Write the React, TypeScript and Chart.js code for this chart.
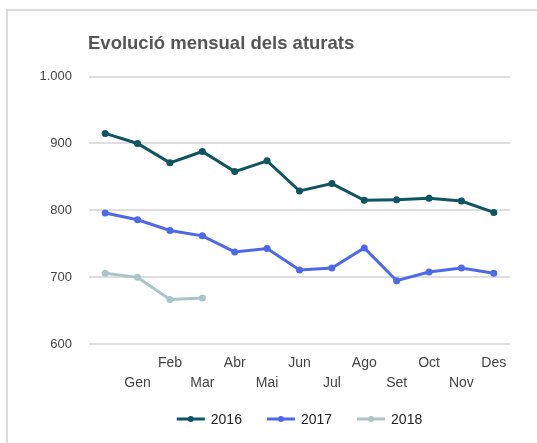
import React, { useEffect, useRef } from "react";
import { Chart, registerables } from "chart.js";

Chart.register(...registerables);

const TITLE = "Evolució mensual dels aturats";
const MONTHS = ["", "Gen", "Feb", "Mar", "Abr", "Mai", "Jun", "Jul", "Ago", "Set", "Oct", "Nov", "Des"];
const SERIES_NAMES = ["2016", "2017", "2018"];
const SERIES_COLORS = ["#0f5463", "#4d69e8", "#a9c5c8"];
const DATA_2016 = [915, 900, 871, 888, 858, 874, 829, 840, 815, 816, 818, 814, 797];
const DATA_2017 = [796, 786, 770, 762, 738, 743, 711, 714, 744, 695, 708, 714, 706];
const DATA_2018: (number | null)[] = [706, 700, 667, 669, null, null, null, null, null, null, null, null, null];
const Y_MIN = 600;
const Y_MAX = 1000;
const Y_STEP = 100;

const FONT = "'Liberation Sans', Arial, sans-serif";

function fmt(v: number): string {
  const s = Math.round(v).toString();
  return s.replace(/\B(?=(\d{3})+(?!\d))/g, ".");
}

const titlePlugin = {
  id: "customTitle",
  afterDraw(chart: any) {
    const ctx = chart.ctx;
    ctx.save();
    ctx.font = `bold 18.5px ${FONT}`;
    ctx.fillStyle = "#555555";
    ctx.textAlign = "left";
    ctx.textBaseline = "middle";
    ctx.fillText(TITLE, chart.chartArea.left - 1, 33);
    ctx.restore();
  },
};

const legendPlugin = {
  id: "customLegend",
  afterDraw(chart: any) {
    const ctx = chart.ctx;
    const ds = chart.data.datasets;
    ctx.save();
    ctx.font = `14px ${FONT}`;
    const lineW = 28;
    const gap = 6;
    const spacing = 25;
    const widths = ds.map((d: any) => lineW + gap + ctx.measureText(d.label).width);
    const total = widths.reduce((a: number, b: number) => a + b, 0) + spacing * (ds.length - 1);
    const ca = chart.chartArea;
    let x = (ca.left + ca.right) / 2 - total / 2;
    const y = 408;
    ds.forEach((d: any, i: number) => {
      ctx.strokeStyle = d.borderColor;
      ctx.lineWidth = 3;
      ctx.beginPath();
      ctx.moveTo(x, y);
      ctx.lineTo(x + lineW, y);
      ctx.stroke();
      ctx.fillStyle = d.borderColor;
      ctx.beginPath();
      ctx.arc(x + lineW / 2, y, 3, 0, Math.PI * 2);
      ctx.fill();
      ctx.fillStyle = "#222222";
      ctx.textAlign = "left";
      ctx.textBaseline = "middle";
      ctx.fillText(d.label, x + lineW + gap, y + 1);
      x += widths[i] + spacing;
    });
    ctx.restore();
  },
};

export default function App() {
  const ref = useRef<HTMLCanvasElement>(null);
  useEffect(() => {
    if (!ref.current) return;
    const series = [DATA_2016, DATA_2017, DATA_2018];
    const chart = new Chart(ref.current, {
      type: "line",
      data: {
        labels: MONTHS,
        datasets: series.map((d, i) => ({
          label: SERIES_NAMES[i],
          data: d,
          borderColor: SERIES_COLORS[i],
          backgroundColor: SERIES_COLORS[i],
          borderWidth: 3,
          pointRadius: 3.5,
          pointHoverRadius: 3.5,
          pointBorderWidth: 0,
          tension: 0,
          spanGaps: false,
        })),
      },
      options: {
        responsive: false,
        animation: false,
        layout: { padding: { top: 65.5, right: 27, left: 0, bottom: 38.7 } },
        plugins: {
          legend: { display: false },
          title: { display: false },
          tooltip: { enabled: false },
        },
        scales: {
          x: {
            offset: true,
            grid: { display: false },
            border: { display: false },
            afterFit: (axis: any) => {
              axis.height = 60;
            },
            ticks: {
              autoSkip: false,
              maxRotation: 0,
              minRotation: 0,
              padding: 1,
              color: "#444444",
              font: { family: FONT, size: 14, lineHeight: 20 / 14 },
              callback: (_v: any, i: number) => {
                const l = MONTHS[i];
                return i % 2 === 1 ? ["", l] : [l, ""];
              },
            },
          },
          y: {
            min: Y_MIN,
            max: Y_MAX,
            border: { display: false },
            grid: { color: "#dedede", lineWidth: 2, drawTicks: false },
            afterFit: (axis: any) => {
              axis.width = 81;
            },
            ticks: {
              stepSize: Y_STEP,
              padding: 17,
              color: "#444444",
              font: { family: FONT, size: 13 },
              callback: (v: any) => fmt(Number(v)),
            },
          },
        },
      },
      plugins: [titlePlugin, legendPlugin],
    });
    return () => chart.destroy();
  }, []);

  return (
    <div
      style={{
        position: "absolute",
        left: 6,
        top: 9,
        width: 531,
        height: 434,
        borderTop: "2px solid #dcdcdc",
        borderLeft: "2px solid #dcdcdc",
        boxSizing: "border-box",
      }}
    >
      <canvas ref={ref} width={529} height={432} style={{ display: "block" }} />
    </div>
  );
}
